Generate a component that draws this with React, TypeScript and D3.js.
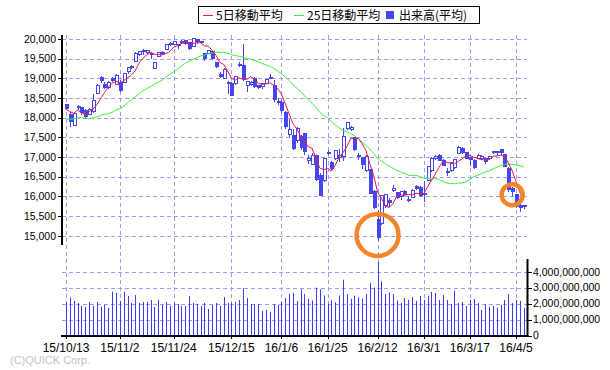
import { useRef, useEffect } from "react";
import * as d3 from "d3";

const WIDTH = 610;
const HEIGHT = 370;

// trading days shown on the chart
const dates = [
  "15/10/13", "15/10/14", "15/10/15", "15/10/16", "15/10/19", "15/10/20", "15/10/21", "15/10/22", "15/10/23", "15/10/26", "15/10/27", "15/10/28", "15/10/29", "15/10/30",
  "15/11/2", "15/11/4", "15/11/5", "15/11/6", "15/11/9", "15/11/10", "15/11/11", "15/11/12", "15/11/13", "15/11/16", "15/11/17", "15/11/18", "15/11/19", "15/11/20",
  "15/11/24", "15/11/25", "15/11/26", "15/11/27", "15/11/30", "15/12/1", "15/12/2", "15/12/3", "15/12/4", "15/12/7", "15/12/8", "15/12/9", "15/12/10", "15/12/11", "15/12/14",
  "15/12/15", "15/12/16", "15/12/17", "15/12/18", "15/12/21", "15/12/22", "15/12/24", "15/12/25", "15/12/28", "15/12/29", "15/12/30",
  "16/1/4", "16/1/5", "16/1/6", "16/1/7", "16/1/8", "16/1/12", "16/1/13", "16/1/14", "16/1/15", "16/1/18", "16/1/19", "16/1/20", "16/1/21", "16/1/22",
  "16/1/25", "16/1/26", "16/1/27", "16/1/28", "16/1/29", "16/2/1", "16/2/2", "16/2/3", "16/2/4", "16/2/5", "16/2/8", "16/2/9", "16/2/10",
  "16/2/12", "16/2/15", "16/2/16", "16/2/17", "16/2/18", "16/2/19", "16/2/22", "16/2/23", "16/2/24", "16/2/25", "16/2/26", "16/2/29",
  "16/3/1", "16/3/2", "16/3/3", "16/3/4", "16/3/7", "16/3/8", "16/3/9", "16/3/10", "16/3/11", "16/3/14", "16/3/15", "16/3/16",
  "16/3/17", "16/3/18", "16/3/22", "16/3/23", "16/3/24", "16/3/25", "16/3/28", "16/3/29", "16/3/30", "16/3/31", "16/4/1", "16/4/4",
  "16/4/5", "16/4/6", "16/4/7",
];

const tickDates = ["15/10/13", "15/11/2", "15/11/24", "15/12/15", "16/1/6", "16/1/25", "16/2/12", "16/3/1", "16/3/17", "16/4/5"];

const opens = [
  18330, 18090, 17800, 18250, 18250, 18180, 18090, 18150, 18620, 19010, 18850, 18760, 19000, 18850,
  18900, 18900, 19180, 19300, 19430, 19600, 19710, 19660, 19640, 19260, 19550, 19660, 19730, 19890,
  19870, 19870, 19900, 19950, 19900, 19800, 20000, 19900, 19620, 19640, 19680, 19400, 19100, 19000, 18900,
  18870, 18860, 19330, 19320, 18830, 18850, 19000, 18820, 18790, 18880, 19020,
  18820, 18410, 18390, 18140, 17560, 17540, 17430, 17530, 17590, 16900, 16820, 17030, 16530, 16400,
  17100, 16850, 16950, 17000, 17020, 17730, 17700, 17500, 17050, 16980, 16650, 16680, 16130,
  15420, 15300, 15780, 15900, 16150, 16100, 15990, 16130, 15900, 15980, 16250, 16230,
  16070, 16400, 16650, 16960, 17030, 16920, 16640, 16670, 16740, 17100, 17220, 17110,
  16990, 16920, 16960, 16950, 16950, 16950, 17110, 17130, 17180, 17060, 16720, 16200,
  16050, 15780, 15760,
];

const highs = [
  18360, 18150, 18120, 18320, 18270, 18230, 18240, 18590, 18860, 19050, 18900, 18930, 19040, 19120,
  18950, 19130, 19290, 19350, 19660, 19700, 19740, 19730, 19660, 19410, 19660, 19690, 19870, 19920,
  19960, 19880, 19980, 19970, 19920, 20020, 20010, 19960, 19640, 19720, 19700, 19420, 19160, 19260, 18930,
  18900, 19060, 19420, 19870, 18940, 18920, 19030, 18840, 18890, 18990, 19110,
  18950, 18500, 18450, 18170, 17975, 17710, 17760, 17560, 17620, 17050, 17100, 17050, 16590, 16960,
  17180, 16900, 17170, 17200, 17740, 17880, 17800, 17520, 17110, 17000, 17050, 16700, 16160,
  15660, 16040, 16070, 15950, 16290, 16120, 16120, 16160, 16000, 16180, 16300, 16260,
  16380, 16770, 16990, 17040, 17070, 16940, 16720, 16870, 16940, 17290, 17250, 17140,
  17010, 16960, 17070, 17050, 16980, 17020, 17160, 17150, 17200, 17070, 16740, 16230,
  16070, 15860, 15790,
];

const lows = [
  18200, 17770, 17790, 18200, 18080, 18000, 18060, 18120, 18600, 18880, 18720, 18730, 18900, 18830,
  18650, 18880, 19120, 19230, 19410, 19580, 19600, 19630, 19500, 19230, 19530, 19600, 19710, 19830,
  19850, 19750, 19880, 19860, 19720, 19790, 19880, 19870, 19450, 19620, 19470, 19270, 19020, 18980, 18600,
  18540, 18830, 19300, 18930, 18660, 18800, 18760, 18740, 18730, 18860, 18990,
  18400, 18330, 18130, 17720, 17510, 17190, 17350, 17190, 17050, 16820, 16800, 16390, 16010, 16360,
  17050, 16660, 16930, 16880, 16900, 17690, 17650, 17150, 16920, 16700, 16630, 16060, 15670,
  14865, 15280, 15700, 15720, 16100, 15940, 15920, 16000, 15860, 15960, 16160, 15990,
  15860, 16380, 16630, 16920, 16900, 16760, 16530, 16620, 16700, 17090, 17080, 16940,
  16780, 16690, 16940, 16930, 16830, 16920, 17080, 17040, 17060, 16750, 16120, 16010,
  15700, 15610, 15680,
];

const closes = [
  18234, 17891, 18097, 18291, 18131, 18029, 18207, 18435, 18825, 18947, 18777, 18903, 18935, 19083,
  18683, 19116, 19265, 19265, 19642, 19671, 19697, 19697, 19596, 19393, 19649, 19649, 19859, 19879,
  19924, 19847, 19944, 19883, 19747, 20012, 19938, 19939, 19504, 19698, 19492, 19301, 19046, 19230, 18883,
  18565, 19049, 19353, 18986, 18916, 18886, 18789, 18769, 18873, 18982, 19033,
  18450, 18374, 18191, 17767, 17697, 17218, 17715, 17240, 17147, 16955, 17048, 16416, 16017, 16958,
  17110, 16708, 17163, 17041, 17518, 17865, 17750, 17191, 17044, 16819, 17004, 16085, 15713,
  14952, 16022, 16054, 15836, 16196, 15967, 16111, 16052, 15915, 16140, 16188, 16027,
  16085, 16747, 16960, 17015, 16912, 16784, 16643, 16852, 16939, 17234, 17118, 16975,
  16937, 16725, 17049, 17001, 16892, 17002, 17134, 17104, 17103, 16759, 16164, 16123,
  15733, 15715, 15750,
];

// closes of the 24 sessions before 15/10/13, needed for the first moving-average points
const priorCloses = [
  18182, 17792, 17860, 17427, 18771, 18300, 18264, 17966, 18026, 18172, 18432, 18070,
  17572, 17881, 17645, 16931, 17388, 17722, 17725, 18005, 18186, 18323, 17891, 18439,
];

// volume in billions of shares
const volumes = [
  2.1, 2.4, 2.17, 2.04, 1.85, 1.79, 2.1, 1.85, 2.1, 1.81, 1.92, 1.73, 2.75, 2.67,
  2.17, 2.75, 2.48, 2.04, 2.54, 2.04, 2.1, 2.1, 2.23, 1.79, 2.23, 1.92, 2.1, 1.85,
  2.04, 1.98, 1.85, 1.85, 2.48, 2.04, 1.98, 1.85, 2.04, 1.67, 1.92, 2.04, 1.85, 2.42, 2.04,
  2.04, 2.1, 2.23, 2.96, 2.35, 1.98, 1.98, 1.98, 1.54, 1.6, 1.48,
  1.98, 1.92, 2.1, 2.35, 2.6, 2.67, 2.17, 2.9, 2.6, 2.3, 2.2, 3.0, 2.9, 2.5,
  2.0, 2.2, 2.1, 2.5, 3.5, 2.6, 2.3, 2.5, 2.4, 2.3, 2.6, 3.3, 3.0,
  4.6, 3.4, 2.6, 2.7, 2.6, 2.2, 2.04, 2.35, 2.23, 2.42, 2.17, 2.48,
  2.23, 2.48, 2.73, 2.67, 2.23, 2.54, 2.23, 1.98, 2.79, 2.04, 2.1, 1.85,
  2.23, 2.29, 2.04, 1.6, 1.98, 1.79, 1.85, 1.73, 1.92, 2.23, 2.6, 2.04,
  2.23, 2.17, 1.73,
];

const priceTicks = [15000, 15500, 16000, 16500, 17000, 17500, 18000, 18500, 19000, 19500, 20000];
const volumeTicks = [0, 1e9, 2e9, 3e9, 4e9];

const legendItems = [
  { label: "5日移動平均", kind: "line", color: "#f01446" },
  { label: "25日移動平均", kind: "line", color: "#3cf03c" },
  { label: "出来高(平均)", kind: "box", color: "#4646f0" },
];

const CANDLE = "#4646f0";
const GRID = "#9c9cf2";

const App = () => {
  const svgRef = useRef<SVGSVGElement>(null);

  useEffect(() => {
    const svg = d3.select(svgRef.current);
    svg.selectAll("*").remove();

    const x = d3.scalePoint<string>().domain(dates).range([66, 523.7]);
    const y = d3.scaleLinear().domain([15000, 20000]).range([235.7, 39]);
    const yVol = d3.scaleLinear().domain([0, 4e9]).range([335.5, 271.7]);
    const px = (d: string) => Math.round(x(d)!) + 0.5;
    const crisp = (v: number) => Math.round(v) + 0.5;

    const left = 62;
    const right = 527;

    svg.append("rect").attr("width", WIDTH).attr("height", HEIGHT).attr("fill", "#fff");

    // grid
    const grid = svg.append("g").attr("stroke", GRID).attr("stroke-dasharray", "4,3").attr("stroke-width", 1);
    grid.selectAll(".vg").data(tickDates).join("line")
      .attr("x1", px).attr("x2", px).attr("y1", 35).attr("y2", 335);
    grid.selectAll(".hg").data(priceTicks).join("line")
      .attr("x1", left).attr("x2", right)
      .attr("y1", (d) => crisp(y(d))).attr("y2", (d) => crisp(y(d)));
    grid.selectAll(".vgv").data(volumeTicks.slice(1)).join("line")
      .attr("x1", left).attr("x2", right)
      .attr("y1", (d) => crisp(yVol(d))).attr("y2", (d) => crisp(yVol(d)));

    // candles
    const candles = svg.append("g").attr("shape-rendering", "crispEdges");
    const idx = d3.range(dates.length);
    candles.selectAll("line").data(idx).join("line")
      .attr("x1", (i) => px(dates[i])).attr("x2", (i) => px(dates[i]))
      .attr("y1", (i) => y(highs[i])).attr("y2", (i) => y(lows[i]))
      .attr("stroke", CANDLE);
    candles.selectAll("rect").data(idx).join("rect")
      .attr("x", (i) => px(dates[i]) - 1.5)
      .attr("width", 3)
      .attr("y", (i) => y(Math.max(opens[i], closes[i])))
      .attr("height", (i) => Math.max(1, Math.abs(y(opens[i]) - y(closes[i]))))
      .attr("fill", (i) => (closes[i] >= opens[i] ? "#fff" : CANDLE))
      .attr("stroke", CANDLE);

    // moving averages
    const allCloses = priorCloses.concat(closes);
    const movingAverage = (n: number) =>
      closes.map((_, i) => d3.mean(allCloses.slice(i + priorCloses.length - n + 1, i + priorCloses.length + 1))!);
    const line = d3.line<number>().x((_, i) => x(dates[i])!).y((d) => y(d));
    svg.append("path").datum(movingAverage(25)).attr("d", line)
      .attr("fill", "none").attr("stroke", "#3cf03c").attr("stroke-width", 1);
    svg.append("path").datum(movingAverage(5)).attr("d", line)
      .attr("fill", "none").attr("stroke", "#f01446").attr("stroke-width", 1);

    // volume
    svg.append("g").selectAll("line").data(idx).join("line")
      .attr("x1", (i) => px(dates[i])).attr("x2", (i) => px(dates[i]))
      .attr("y1", yVol(0)).attr("y2", (i) => yVol(volumes[i] * 1e9))
      .attr("stroke", "#3c3cff");

    // axes
    const axes = svg.append("g").attr("stroke", "#000");
    axes.append("line").attr("x1", 62).attr("x2", 62).attr("y1", 35).attr("y2", 245).attr("stroke-width", 2);
    axes.append("line").attr("x1", 527.5).attr("x2", 527.5).attr("y1", 259).attr("y2", 337).attr("stroke-width", 2);
    axes.append("line").attr("x1", 61).attr("x2", 528.5).attr("y1", 336).attr("y2", 336).attr("stroke-width", 2);
    axes.selectAll(".pt").data(priceTicks).join("line")
      .attr("x1", 58).attr("x2", 62).attr("y1", (d) => crisp(y(d))).attr("y2", (d) => crisp(y(d)));
    axes.selectAll(".vt").data(volumeTicks).join("line")
      .attr("x1", 527).attr("x2", 532).attr("y1", (d) => crisp(yVol(d))).attr("y2", (d) => crisp(yVol(d)));
    axes.selectAll(".dt").data(tickDates).join("line")
      .attr("x1", px).attr("x2", px).attr("y1", 336).attr("y2", 339);

    const fmt = d3.format(",");
    svg.append("g").attr("font-family", "Liberation Sans, Arial, sans-serif").attr("font-size", 10.5)
      .attr("text-anchor", "end").attr("fill", "#000")
      .selectAll("text").data(priceTicks).join("text")
      .attr("x", 56).attr("y", (d) => y(d) + 3.8).text((d) => fmt(d));
    svg.append("g").attr("font-family", "Liberation Sans, Arial, sans-serif").attr("font-size", 10.5)
      .attr("fill", "#000")
      .selectAll("text").data(volumeTicks).join("text")
      .attr("x", 533).attr("y", (d) => yVol(d) + 3.8).text((d) => fmt(d));
    svg.append("g").attr("font-family", "Liberation Sans, Arial, sans-serif").attr("font-size", 12)
      .attr("text-anchor", "middle").attr("fill", "#000")
      .selectAll("text").data(tickDates).join("text")
      .attr("x", (d) => x(d)!).attr("y", 352).text((d) => d);

    // legend
    const legend = svg.append("g").attr("font-family", "Noto Sans CJK JP, sans-serif").attr("font-size", 12);
    legend.append("rect").attr("x", 198.5).attr("y", 6.5).attr("width", 281).attr("height", 17)
      .attr("fill", "#fff").attr("stroke", "#000");
    const itemX = [203, 294, 386];
    legendItems.forEach((item, k) => {
      const g = legend.append("g").attr("transform", `translate(${itemX[k]},0)`);
      if (item.kind === "line") {
        g.append("line").attr("x1", 0).attr("x2", 10).attr("y1", 15.5).attr("y2", 15.5).attr("stroke", item.color);
      } else {
        g.append("rect").attr("x", 0).attr("y", 11).attr("width", 8).attr("height", 8).attr("fill", item.color);
      }
      g.append("text").attr("x", item.kind === "line" ? 13 : 13).attr("y", 20).text(item.label);
    });

    // highlighted sessions
    const marks = [
      { date: "16/2/12", price: 15020, r: 21 },
      { date: "16/4/4", price: 16040, r: 10.5 },
    ];
    svg.append("g").selectAll("circle").data(marks).join("circle")
      .attr("cx", (d) => x(d.date)!).attr("cy", (d) => y(d.price)).attr("r", (d) => d.r)
      .attr("fill", "none").attr("stroke", "#f5842a").attr("stroke-width", 4.5);

    svg.append("text").attr("x", 10).attr("y", 364).attr("font-family", "Liberation Sans, Arial, sans-serif")
      .attr("font-size", 11).attr("fill", "#c4c4c4").text("(C)QUICK Corp.");
  }, []);

  return (
    <svg ref={svgRef} width={WIDTH} height={HEIGHT}
      style={{ position: "absolute", left: 0, top: 0, display: "block" }} />
  );
};

export default App;
